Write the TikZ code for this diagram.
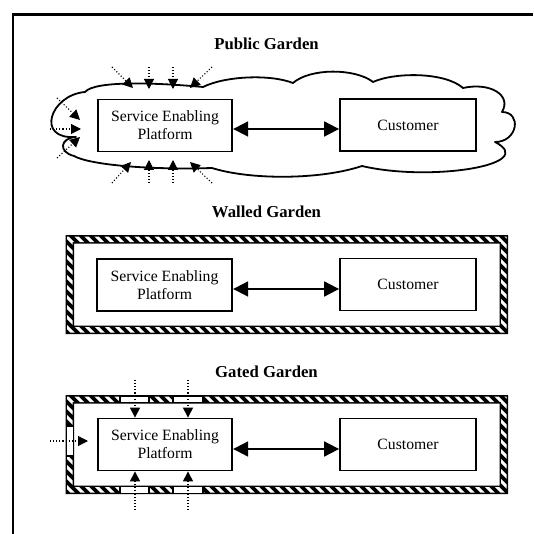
\documentclass[tikz,border=0pt]{standalone}
\usepackage{fontspec}
\setmainfont{Liberation Serif}
\usetikzlibrary{arrows.meta,calc}
\tikzset{
  box/.style={draw, line width=1.8pt, minimum width=134.5pt, minimum height=52pt,
    inner sep=0pt, align=center, font=\fontsize{15.7}{18}\selectfont},
  titletext/.style={font=\fontsize{16.7}{20}\selectfont\bfseries, inner sep=0pt},
  biarrow/.style={line width=1.8pt, {Triangle[length=15pt,width=15pt]}-{Triangle[length=15pt,width=15pt]}},
  dotarrow/.style={line width=1.1pt, dash pattern=on 1.1pt off 2pt, -{Triangle[length=10pt,width=10pt]}},
  cloudline/.style={line width=1.8pt, line join=round},
  gate/.style={draw, fill=white, line width=1.3pt},
}
\begin{document}
\begin{tikzpicture}[x=1pt,y=-1pt]
\useasboundingbox (0,0) rectangle (533,534);
% outer frame
\draw[line width=2.3pt] (13,534) -- (13,14.5) -- (533,14.5);

% ---------- Public Garden ----------
\node[titletext] (tpub) at (266.5,44) {Public Garden};
\draw[cloudline] (85,92)
  .. controls (50,95) and (35,140) .. (76,137)
  .. controls (60,138) and (58,152) .. (74,156)
  .. controls (90,165) and (150,170) .. (212,168)
  .. controls (250,180) and (320,180) .. (362,166)
  .. controls (430,182) and (540,165) .. (495,142)
  .. controls (518,142) and (522,112) .. (502,112)
  .. controls (512,95) and (490,82) .. (463,88)
  .. controls (445,72) and (395,72) .. (373,82)
  .. controls (355,68) and (310,68) .. (293,83)
  .. controls (270,74) and (225,76) .. (203,87)
  .. controls (160,83) and (95,80) .. cycle;
\node[box] (sep1) at (165,125.5) {Service Enabling\\Platform};
\node[box, minimum width=136pt] (cus1) at (408,125) {Customer};
\draw[biarrow] ($(sep1.east)+(0,3.5)$) -- ($(cus1.west)+(0,4)$);
% incoming dotted arrows
\coordinate (pt1s) at (112,67);  \coordinate (pt1e) at (133,88);
\coordinate (pt2s) at (149,67);  \coordinate (pt2e) at (149,89);
\coordinate (pt3s) at (173,67);  \coordinate (pt3e) at (173,89);
\coordinate (pt4s) at (212,67);  \coordinate (pt4e) at (190,88);
\coordinate (pb1s) at (112,183); \coordinate (pb1e) at (131,162);
\coordinate (pb2s) at (149,183); \coordinate (pb2e) at (149,160);
\coordinate (pb3s) at (173,183); \coordinate (pb3e) at (173,160);
\coordinate (pb4s) at (212,183); \coordinate (pb4e) at (190,162);
\coordinate (pl1s) at (57,98);   \coordinate (pl1e) at (80,120);
\coordinate (pl2s) at (50,129);  \coordinate (pl2e) at (81,129);
\coordinate (pl3s) at (57,158);  \coordinate (pl3e) at (80,137);
\foreach \a in {pt1,pt2,pt3,pt4,pb1,pb2,pb3,pb4,pl1,pl2,pl3}
  \draw[dotarrow] (\a s) -- (\a e);

% ---------- hatched walls ----------
\foreach \ya/\yb in {235/334, 395/494} {
  \fill[black, even odd rule] (65.5,\ya) rectangle (508,\yb)
     (74,\ya+8.5) rectangle (499.5,\yb-8.5);
  \begin{scope}[even odd rule]
    \clip (67,\ya+1.5) rectangle (506.5,\yb-1.5)
       (72.5,\ya+7) rectangle (501,\yb-7);
    \foreach \i in {-130,-120,...,520}
      \draw[white, line width=3pt] (\i,\ya-5) -- ++(115,115);
  \end{scope}
}

% ---------- Walled Garden ----------
\node[titletext] (twal) at (266.5,212) {Walled Garden};
\node[box, minimum width=135.5pt] (sep2) at (164.5,285) {Service Enabling\\Platform};
\node[box, minimum width=136pt] (cus2) at (408,284.5) {Customer};
\draw[biarrow] ($(sep2.east)+(0,4)$) -- ($(cus2.west)+(0,4.5)$);

% ---------- Gated Garden ----------
\node[titletext] (tgat) at (266.5,372) {Gated Garden};
% gates
\draw[gate] (120,396.2) rectangle (149,402.8);
\draw[gate] (173,396.2) rectangle (203,402.8);
\draw[gate] (120,486.2) rectangle (149,493.3);
\draw[gate] (173,486.2) rectangle (203,493.3);
\draw[gate] (66.2,426) rectangle (73.3,456);
\node[box] (sep3) at (165,444.5) {Service Enabling\\Platform};
\node[box, minimum width=136pt] (cus3) at (408,444.5) {Customer};
\draw[biarrow] ($(sep3.east)+(0,4.5)$) -- ($(cus3.west)+(0,4.5)$);
\coordinate (g1) at (135,380);
\coordinate (g2) at (188,380);
\coordinate (g3) at (135,510);
\coordinate (g4) at (188,510);
\coordinate (g5) at (50,441);
\coordinate (g5e) at (88,441);
\draw[dotarrow] (g1) -- (g1 |- sep3.north);
\draw[dotarrow] (g2) -- (g2 |- sep3.north);
\draw[dotarrow] (g3) -- (g3 |- sep3.south);
\draw[dotarrow] (g4) -- (g4 |- sep3.south);
\draw[dotarrow] (g5) -- (g5e);
\end{tikzpicture}
\end{document}
